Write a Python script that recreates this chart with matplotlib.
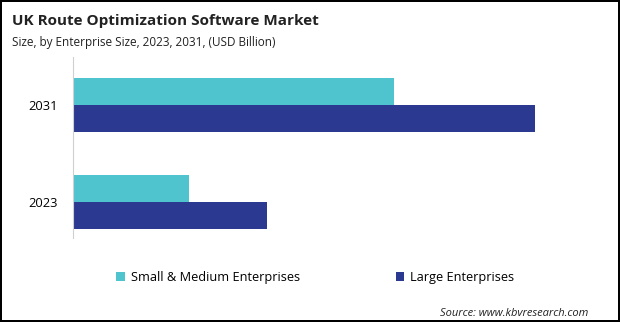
import numpy as np
import matplotlib.pyplot as plt

years = ["2023", "2031"]
sme = [0.116, 0.321]
large = [0.194, 0.462]
series_names = ["Small & Medium Enterprises", "Large Enterprises"]

plt.rcParams['font.family'] = ['Open Sans', 'DejaVu Sans']

fig = plt.figure(figsize=(6.2, 3.22), dpi=100)
fig.patch.set_edgecolor("black")
fig.patch.set_linewidth(1.5)

ax = fig.add_axes([73 / 620, 1 - 238 / 322, 527 / 620, 181 / 322])
y = np.arange(len(years))
h = 0.278
b1 = ax.barh(y + h / 2, sme, height=h, color="#4FC4CF", label=series_names[0])
b2 = ax.barh(y - h / 2, large, height=h, color="#2B3990", label=series_names[1])

ax.set_xlim(0, 0.527)
ax.set_ylim(-0.371, 1.495)
ax.set_yticks(y)
ax.set_yticklabels(years, fontsize=9.3)
ax.tick_params(axis="y", length=0, pad=11)
ax.set_xticks([])
for s in ["top", "right", "bottom"]:
    ax.spines[s].set_visible(False)
ax.spines["left"].set_color("#d0d0d0")

fig.text(12 / 620, 1 - 25 / 322, "UK Route Optimization Software Market",
         fontsize=11, fontweight="bold", color="#222222")
fig.text(12 / 620, 1 - 46 / 322, "Size, by Enterprise Size, 2023, 2031, (USD Billion)",
         fontsize=8.5, color="#222222")

fig.legend(handles=[b1, b2], loc="center left", bbox_to_anchor=(105 / 620, 1 - 277 / 322),
           ncol=2, frameon=False, fontsize=9.2, handlelength=0.7, handleheight=0.7,
           handletextpad=0.4, columnspacing=7.5)

fig.text(588 / 620, 1 - 316 / 322, "Source: www.kbvresearch.com",
         fontsize=8, style="italic", ha="right", color="#222222")

fig.savefig("out.png", dpi=100, edgecolor=fig.get_edgecolor())
